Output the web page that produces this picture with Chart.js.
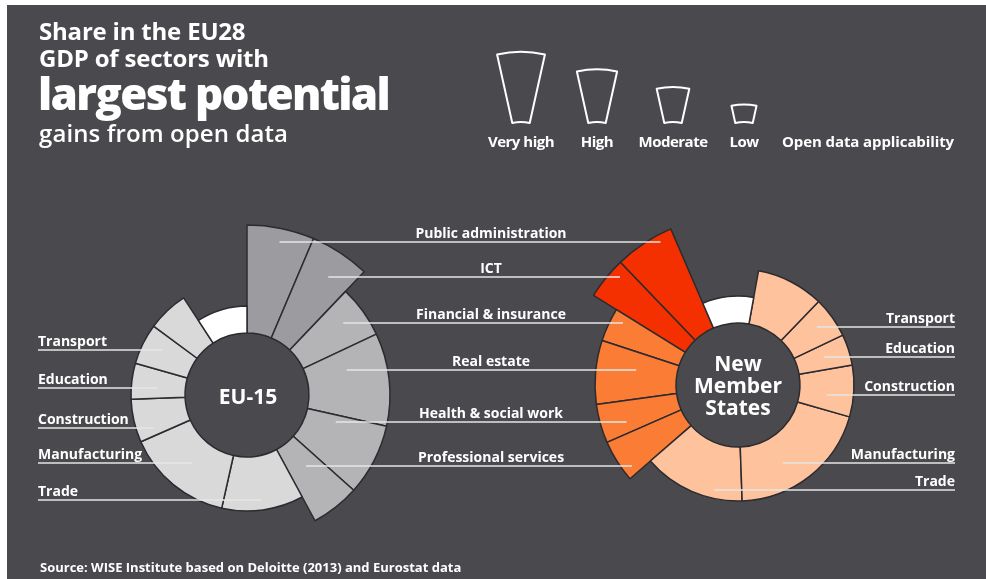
<!DOCTYPE html>
<html>
<head>
<meta charset="utf-8">
<script src="https://cdn.jsdelivr.net/npm/chart.js@4.4.1/dist/chart.umd.min.js"></script>
<style>
  html, body { margin: 0; padding: 0; background: #fff; }
  #wrap { position: relative; width: 986px; height: 579px; overflow: hidden; }
  #panel { position: absolute; left: 7px; top: 5px; right: 0; bottom: 0; background: #4a494e; }
  #chart { position: absolute; left: 0; top: 0; }
  .t { position: absolute; color: #fff; font-family: 'Open Sans', sans-serif; font-weight: 700; white-space: nowrap; }
  .lab { font-size: 14px; line-height: 16px; letter-spacing: 0px; }
</style>
</head>
<body>
<div id="wrap">
  <div id="panel"></div>
  <canvas id="chart" width="986" height="579"></canvas>
  <div class="t" style="left:39px;top:17px;font-size:24px;line-height:28px;letter-spacing:-0.2px">Share in the EU28</div>
  <div class="t" style="left:39px;top:44px;font-size:24px;line-height:28px;letter-spacing:-0.2px">GDP of sectors with</div>
  <div class="t" style="left:38px;top:69px;font-size:44px;line-height:48px;font-weight:800;letter-spacing:-1.7px">largest potential</div>
  <div class="t" style="left:39px;top:119px;font-size:24px;line-height:28px;font-weight:600;letter-spacing:0.1px">gains from open data</div>
  <div class="t" style="left:40px;top:560px;font-size:13px;line-height:15px;letter-spacing:0px">Source: WISE Institute based on Deloitte (2013) and Eurostat data</div>
</div>
<script>
// sectors, clockwise from the top for EU-15 (mirrored for the new member states)
const categories = ['Public administration', 'ICT', 'Financial & insurance', 'Real estate',
  'Health & social work', 'Professional services', 'Trade', 'Manufacturing',
  'Construction', 'Education', 'Transport', '', ''];
// open data applicability: 4 very high, 3 high, 2 moderate, 1 low
const applicability = [4, 4, 3, 3, 3, 3, 2, 2, 2, 2, 2, 2, 1];
// share in GDP, %
const eu15Share = [6.4, 5.7, 5.9, 10.5, 8.1, 5.5, 11.4, 14.9, 6.0, 5.0, 5.7, 5.7, 9.2];
const nmsShare = [5.7, 4.0, 3.8, 7.2, 4.4, 4.8, 14.2, 20.0, 7.2, 4.3, 5.7, 9.4, 9.3];
const levelNames = ['Very high', 'High', 'Moderate', 'Low'];

// layout
const centers = [{x: 247, y: 395}, {x: 738, y: 385}];
const innerR = 62, levelStep = 27;
const euColors = {4: '#9c9ba0', 3: '#b4b4b6', 2: '#d9d9da', 1: '#ffffff'};
const nmsColors = {4: '#f53000', 3: '#fb7c34', 2: '#fec29d', 1: '#ffffff'};
const labelInMiddle = [true, true, true, true, true, true, false, false, false, false, false, false, false];
const euLineY = [242, 277, 323, 370, 422, 466, 500, 463, 428, 388, 350, null, null];
const nmsLineY = [242, 277, 323, 370, 422, 466, 490, 463, 395, 357, 327, null, null];
const leftX = 38, rightX = 955, midX = 491;
const legendX = [521, 597, 673, 744], legendBase = 122, legendScale = 0.65;

const wrap = document.getElementById('wrap');
function addText(str, css) {
  const d = document.createElement('div');
  d.className = 't';
  d.textContent = str;
  d.style.cssText = css;
  wrap.appendChild(d);
  return d;
}

// move each ring to its own centre and give each slice its radius
const geometry = {
  id: 'geometry',
  afterDatasetsUpdate(chart) {
    chart.data.datasets.forEach((ds, i) => {
      chart.getDatasetMeta(i).data.forEach((arc, j) => {
        let s = arc.startAngle, e = arc.endAngle;
        if (ds.mirror) { const s2 = Math.PI - e; e = Math.PI - s; s = s2; }
        arc.x = centers[i].x;
        arc.y = centers[i].y;
        arc.startAngle = s;
        arc.endAngle = e;
        arc.innerRadius = innerR;
        arc.outerRadius = innerR + applicability[j] * levelStep;
      });
    });
  }
};

// middle of the part of a horizontal line that falls inside a slice
function spanMid(arc, y) {
  let first = null, last = null;
  for (let x = arc.x - 200; x <= arc.x + 200; x += 0.5) {
    if (arc.inRange(x, y)) {
      if (first === null) first = x;
      last = x;
    }
  }
  return first === null ? arc.x : (first + last) / 2;
}

const leaders = {
  id: 'leaders',
  afterDraw(chart) {
    const ctx = chart.ctx;
    const eu = chart.getDatasetMeta(0).data;
    const nm = chart.getDatasetMeta(1).data;
    ctx.save();
    ctx.strokeStyle = '#e6e6e6';
    ctx.lineWidth = 1.5;
    const seg = (x1, x2, y) => { ctx.beginPath(); ctx.moveTo(x1, y); ctx.lineTo(x2, y); ctx.stroke(); };
    categories.forEach((name, j) => {
      if (!name) return;
      if (labelInMiddle[j]) {
        seg(spanMid(eu[j], euLineY[j]), spanMid(nm[j], nmsLineY[j]), euLineY[j]);
      } else {
        seg(leftX, spanMid(eu[j], euLineY[j]), euLineY[j]);
        seg(spanMid(nm[j], nmsLineY[j]), rightX, nmsLineY[j]);
      }
    });

    // legend shapes: the same ring radii, scaled down
    ctx.strokeStyle = '#ffffff';
    ctx.lineWidth = 2;
    ctx.lineJoin = 'round';
    const half = 12.5 * Math.PI / 180;
    const r0 = innerR * legendScale;
    levelNames.forEach((n, k) => {
      const level = 4 - k;
      const r1 = (innerR + level * levelStep) * legendScale;
      const cx = legendX[k], cy = legendBase + r0;
      const a0 = -Math.PI / 2 - half, a1 = -Math.PI / 2 + half;
      ctx.beginPath();
      ctx.arc(cx, cy, r1, a0, a1);
      ctx.arc(cx, cy, r0, a1, a0, true);
      ctx.closePath();
      ctx.stroke();
    });
    ctx.restore();
  }
};

new Chart(document.getElementById('chart'), {
  type: 'doughnut',
  data: {
    labels: categories,
    datasets: [{
      label: 'EU-15',
      data: eu15Share,
      backgroundColor: applicability.map(l => euColors[l]),
      borderColor: '#2b2b30',
      borderWidth: 1.5,
      rotation: 0
    }, {
      label: 'New Member States',
      data: nmsShare,
      backgroundColor: applicability.map(l => nmsColors[l]),
      borderColor: '#2b2b30',
      borderWidth: 1.5,
      rotation: 23.3,
      mirror: true
    }]
  },
  options: {
    responsive: false,
    animation: false,
    events: [],
    plugins: {
      legend: { display: false },
      tooltip: { enabled: false }
    }
  },
  plugins: [geometry, leaders]
});

// sector labels
categories.forEach((name, j) => {
  if (!name) return;
  if (labelInMiddle[j]) {
    addText(name, `left:${midX}px;top:${euLineY[j] - 17}px;transform:translateX(-50%)`).classList.add('lab');
  } else {
    addText(name, `left:${leftX}px;top:${euLineY[j] - 17}px`).classList.add('lab');
    addText(name, `right:${986 - rightX}px;top:${nmsLineY[j] - 17}px`).classList.add('lab');
  }
});

// legend labels
levelNames.forEach((n, k) => {
  addText(n, `left:${legendX[k]}px;top:132px;font-size:15px;line-height:18px;letter-spacing:-0.5px;transform:translateX(-50%)`);
});
addText('Open data applicability', 'left:782px;top:132px;font-size:15px;line-height:18px;letter-spacing:-0.1px');

// centre labels
addText('EU-15', `left:${centers[0].x + 1}px;top:384px;font-size:21px;line-height:24px;transform:translateX(-50%)`);
addText('New\nMember\nStates', `left:${centers[1].x}px;top:352px;font-size:21px;line-height:22px;text-align:center;white-space:pre;transform:translateX(-50%)`);
</script>
</body>
</html>
